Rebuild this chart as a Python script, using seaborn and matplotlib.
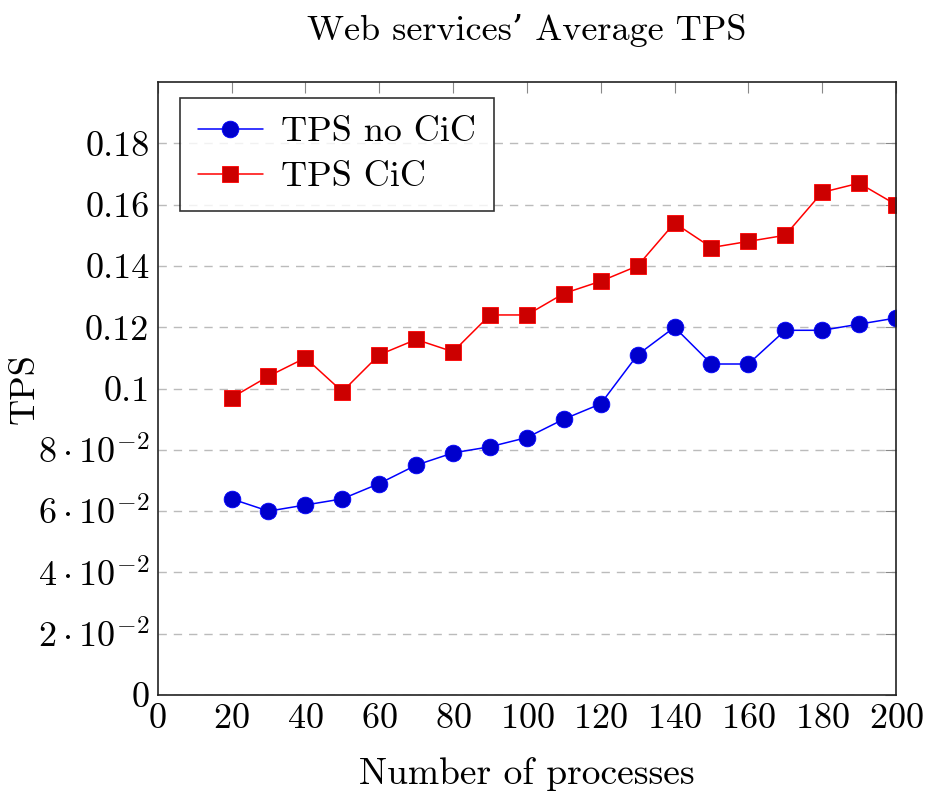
import pandas as pd
import matplotlib
matplotlib.use("Agg")
import matplotlib.pyplot as plt
import matplotlib.ticker as mticker
import seaborn as sns

# -------------------------------
# Data
# -------------------------------
processes = [20, 30, 40, 50, 60, 70, 80, 90, 100, 110,
             120, 130, 140, 150, 160, 170, 180, 190, 200]
tps_no_cic = [0.064, 0.060, 0.062, 0.064, 0.069, 0.075, 0.079, 0.081, 0.084, 0.090,
              0.095, 0.111, 0.120, 0.108, 0.108, 0.119, 0.119, 0.121, 0.123]
tps_cic = [0.097, 0.104, 0.110, 0.099, 0.111, 0.116, 0.112, 0.124, 0.124, 0.131,
           0.135, 0.140, 0.154, 0.146, 0.148, 0.150, 0.164, 0.167, 0.160]

x_ticks = [0, 20, 40, 60, 80, 100, 120, 140, 160, 180, 200]
y_ticks = [0, 0.02, 0.04, 0.06, 0.08, 0.10, 0.12, 0.14, 0.16, 0.18]
y_tick_labels = ["0", r"$2\cdot10^{-2}$", r"$4\cdot10^{-2}$", r"$6\cdot10^{-2}$",
                 r"$8\cdot10^{-2}$", "0.1", "0.12", "0.14", "0.16", "0.18"]

df = pd.DataFrame({"processes": processes,
                   "TPS no CiC": tps_no_cic,
                   "TPS CiC": tps_cic})

# -------------------------------
# Style
# -------------------------------
sns.set_theme(style="white")
plt.rcParams["font.family"] = ["cmr10", "DejaVu Serif"]
plt.rcParams["mathtext.fontset"] = "cm"
plt.rcParams["axes.unicode_minus"] = False
plt.rcParams["axes.formatter.use_mathtext"] = True
plt.rcParams["text.color"] = "black"
plt.rcParams["axes.labelcolor"] = "black"

FS = 26

fig = plt.figure(figsize=(9.28, 8.01), dpi=100)
ax = fig.add_axes([0.170, 0.1323, 0.7955, 0.7653])

# -------------------------------
# Lines
# -------------------------------
sns.lineplot(data=df, x="processes", y="TPS no CiC", ax=ax, color="#0000ff",
             linewidth=1.1, marker="o", markersize=12,
             markerfacecolor="#0000cc", markeredgecolor="#0000ff",
             markeredgewidth=0.6, label="TPS no CiC")
sns.lineplot(data=df, x="processes", y="TPS CiC", ax=ax, color="#ff0000",
             linewidth=1.1, marker="s", markersize=11.5,
             markerfacecolor="#cc0000", markeredgecolor="#ff0000",
             markeredgewidth=0.6, label="TPS CiC")

# -------------------------------
# Axes
# -------------------------------
ax.set_xlim(0, 200)
ax.set_ylim(0, 0.2)
ax.set_xticks(x_ticks)
ax.set_yticks(y_ticks)
ax.yaxis.set_major_formatter(mticker.FixedFormatter(y_tick_labels))
ax.tick_params(axis="both", which="major", direction="in", length=8, width=0.8,
               color="#888888", labelsize=FS, labelcolor="black",
               top=True, right=True, pad=6)
ax.yaxis.grid(True, linestyle=(0, (6, 5)), color="#bbbbbb", linewidth=1.0)
ax.xaxis.grid(False)
for s in ax.spines.values():
    s.set_color("#222222")
    s.set_linewidth(1.2)

ax.set_title("Web services\u2019 Average TPS", fontsize=FS, pad=30, color="black")
ax.set_xlabel("Number of processes", fontsize=FS + 1, labelpad=16)
ax.set_ylabel("TPS", fontsize=FS)
ax.yaxis.set_label_coords(-0.158, 0.5)

leg = ax.legend(loc="upper left", bbox_to_anchor=(0.03, 0.974), fontsize=FS,
                frameon=True, fancybox=False, edgecolor="black",
                handlelength=1.8, handletextpad=0.5, borderpad=0.5,
                labelspacing=0.35, borderaxespad=0)
leg.get_frame().set_linewidth(1.2)
for t in leg.get_texts():
    t.set_color("black")

fig.savefig("out.png", dpi=100)
